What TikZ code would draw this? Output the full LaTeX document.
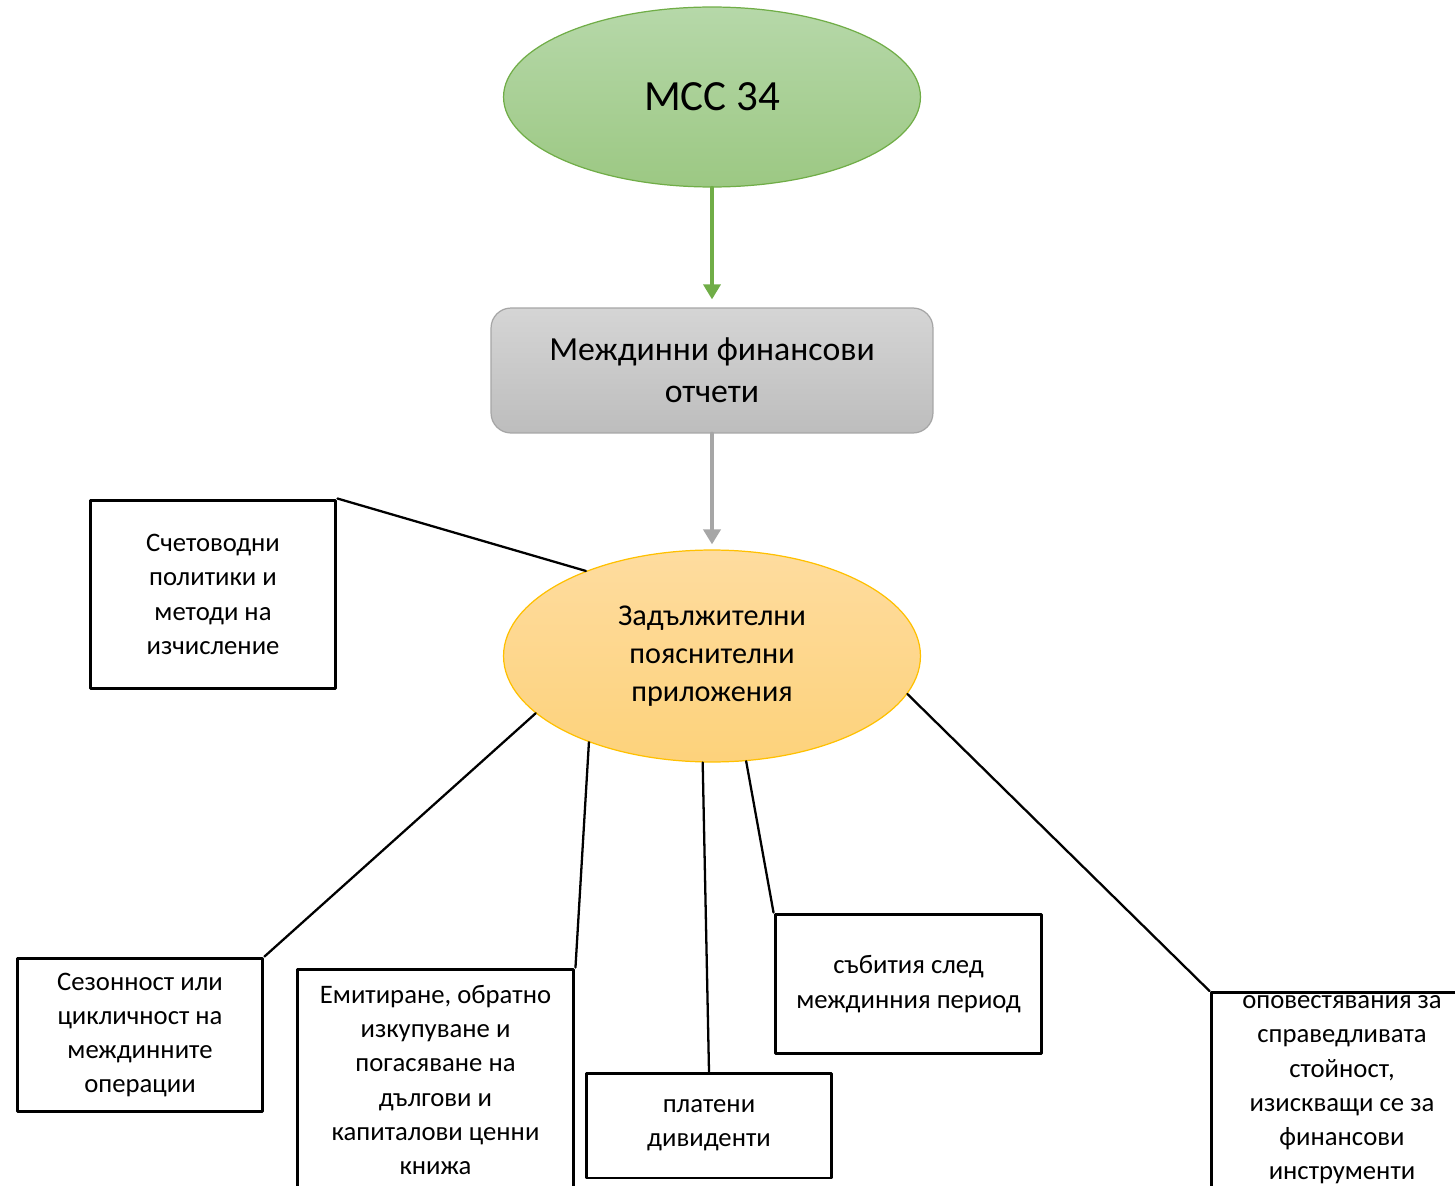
\documentclass[tikz,border=0pt]{standalone}
\usepackage{fontspec}
\setmainfont{Carlito}
\usetikzlibrary{shapes.geometric,arrows.meta}
\definecolor{grnline}{HTML}{70AD47}
\definecolor{grntop}{HTML}{B6D8A9}
\definecolor{grnbot}{HTML}{9CC883}
\definecolor{gryline}{HTML}{A6A6A6}
\definecolor{grytop}{HTML}{D5D5D5}
\definecolor{grybot}{HTML}{BDBDBD}
\definecolor{orgline}{HTML}{FFC000}
\definecolor{orgtop}{HTML}{FEDC9F}
\definecolor{orgbot}{HTML}{FDD27B}
\begin{document}
\begin{tikzpicture}[x=0.02cm, y=-0.02cm, line join=round, line cap=round,
    >={Triangle[length=0.3cm,width=0.34cm]},
    topoval/.style={ellipse, draw=grnline, line width=0.7pt, top color=grntop, bottom color=grnbot,
        minimum width=8.34cm, minimum height=3.6cm, inner sep=0pt,
        font=\fontsize{24.5}{30}\selectfont},
    reportbox/.style={rectangle, rounded corners=0.4cm, draw=gryline, line width=0.7pt,
        top color=grytop, bottom color=grybot, minimum width=8.84cm, minimum height=2.5cm,
        align=center, font=\fontsize{19.2}{23.8}\selectfont},
    noteoval/.style={ellipse, draw=orgline, line width=0.7pt, top color=orgtop, bottom color=orgbot,
        minimum width=8.34cm, minimum height=4.24cm, inner sep=0pt, align=center,
        font=\fontsize{17.2}{21.6}\selectfont},
    itembox/.style={rectangle, draw=black, line width=1.7pt, fill=white, align=center,
        inner sep=0pt, font=\fontsize{15.2}{19.5}\selectfont},
    link/.style={draw=black, line width=1.3pt}]
    \useasboundingbox (0,0) rectangle (1455,1186);
    \clip (0,0) rectangle (1455,1186);
    % main nodes
    \node[topoval] (mcc) at (712,97) {МСС 34};
    \node[reportbox] (report) at (712,370.5) {Междинни финансови\\отчети};
    \node[noteoval] (must) at (712,656) {Задължителни\\пояснителни\\приложения};
    % items
    \node[itembox, minimum width=4.92cm, minimum height=3.78cm] (policy) at (213,594.5)
        {Счетоводни\\политики и\\методи на\\изчисление};
    \node[itembox, minimum width=4.92cm, minimum height=3.08cm] (season) at (140,1035)
        {Сезонност или\\цикличност на\\междинните\\операции};
    \node[itembox, minimum width=5.54cm, minimum height=4.44cm] (issue) at (435.5,1080)
        {Емитиране, обратно\\изкупуване и\\погасяване на\\дългови и\\капиталови ценни\\книжа};
    \node[itembox, minimum width=4.92cm, minimum height=2.1cm] (divid) at (709,1125.5)
        {платени\\дивиденти};
    \node[itembox, minimum width=5.34cm, minimum height=2.8cm] (events) at (908.5,984)
        {събития след\\междинния период};
    \node[itembox, minimum width=5.24cm, minimum height=3.9cm] (fair) at (1342,1090)
        {оповестявания за\\справедливата\\стойност,\\изискващи се за\\финансови\\инструменти};
    % arrows
    \draw[->, grnline, line width=2pt, shorten >=0.16cm] (mcc.south) -- (report.north);
    \draw[->, gryline, line width=2.2pt, shorten >=0.1cm] (report.south) -- (must.north);
    % links
    \draw[link] (policy.north east) -- (must.146.8);
    \draw[link] (season.north east) -- (must.198.5);
    \draw[link] (issue.north east) -- (must.215.8);
    \draw[link] (divid.north) -- (must.265.8);
    \draw[link] (events.north west) -- (must.288.8);
    \draw[link] (fair.north west) -- (must.349.1);
\end{tikzpicture}
\end{document}
